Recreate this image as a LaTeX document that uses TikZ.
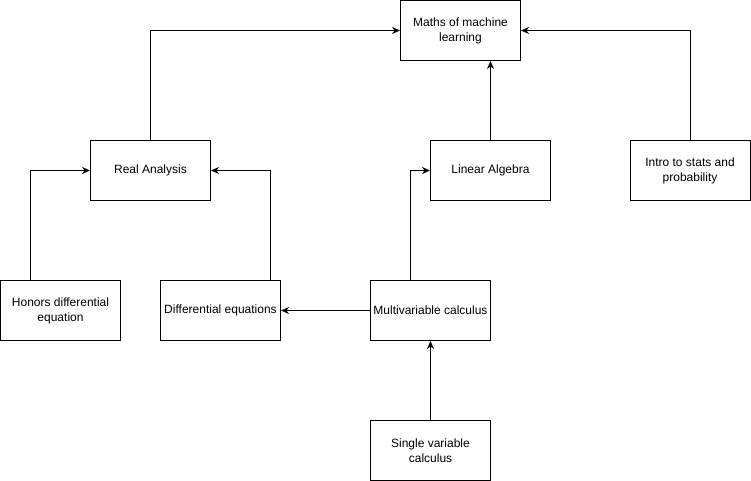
\documentclass[tikz,border=0pt]{standalone}
\usepackage{fontspec}
\setmainfont{Liberation Sans}
\usetikzlibrary{arrows.meta}
\usetikzlibrary{positioning}

\begin{document}
\begin{tikzpicture}[x=1pt,y=-1pt]
			\tikzstyle{every node}+=[inner sep=1pt]
			\tikzstyle{course}=[draw=black, line width=1pt, minimum width=120pt, minimum height=60pt, align=center, font=\fontsize{12}{15}\selectfont]
			\tikzstyle{link}=[draw=black, line width=1pt, -{Stealth[length=8pt,width=7pt,inset=2.5pt]}]
			\useasboundingbox (0,0) rectangle (751,481);
			\node [course] (ml) at (460.5,30.5) {Maths of machine\\learning};
			\node [course] (ra) at (150.5,170.5) {Real Analysis};
			\node [course] (la) at (490.5,170.5) {Linear Algebra};
			\node [course] (st) at (690,170.5) {Intro to stats and\\probability};
			\node [course] (hd) at (60.5,310.5) {Honors differential\\equation};
			\node [course] (de) at (220.5,310.5) {Differential equations};
			\node [course] (mv) at (430.5,310.5) {Multivariable calculus};
			\node [course] (sv) at (430.5,450.5) {Single variable\\calculus};
			\draw [link] (ra.north) |- (ml.west);
			\draw [link] (la.north) -- (la.north |- ml.south);
			\draw [link] (st.north) |- (ml.east);
			\draw [link] ([xshift=-30pt]hd.north) |- (ra.west);
			\draw [link] ([xshift=50pt]de.north) |- (ra.east);
			\draw [link] (mv.west) -- (de.east);
			\draw [link] ([xshift=-20pt]mv.north) |- (la.west);
			\draw [link] (sv.north) -- (mv.south);
\end{tikzpicture}
\end{document}
